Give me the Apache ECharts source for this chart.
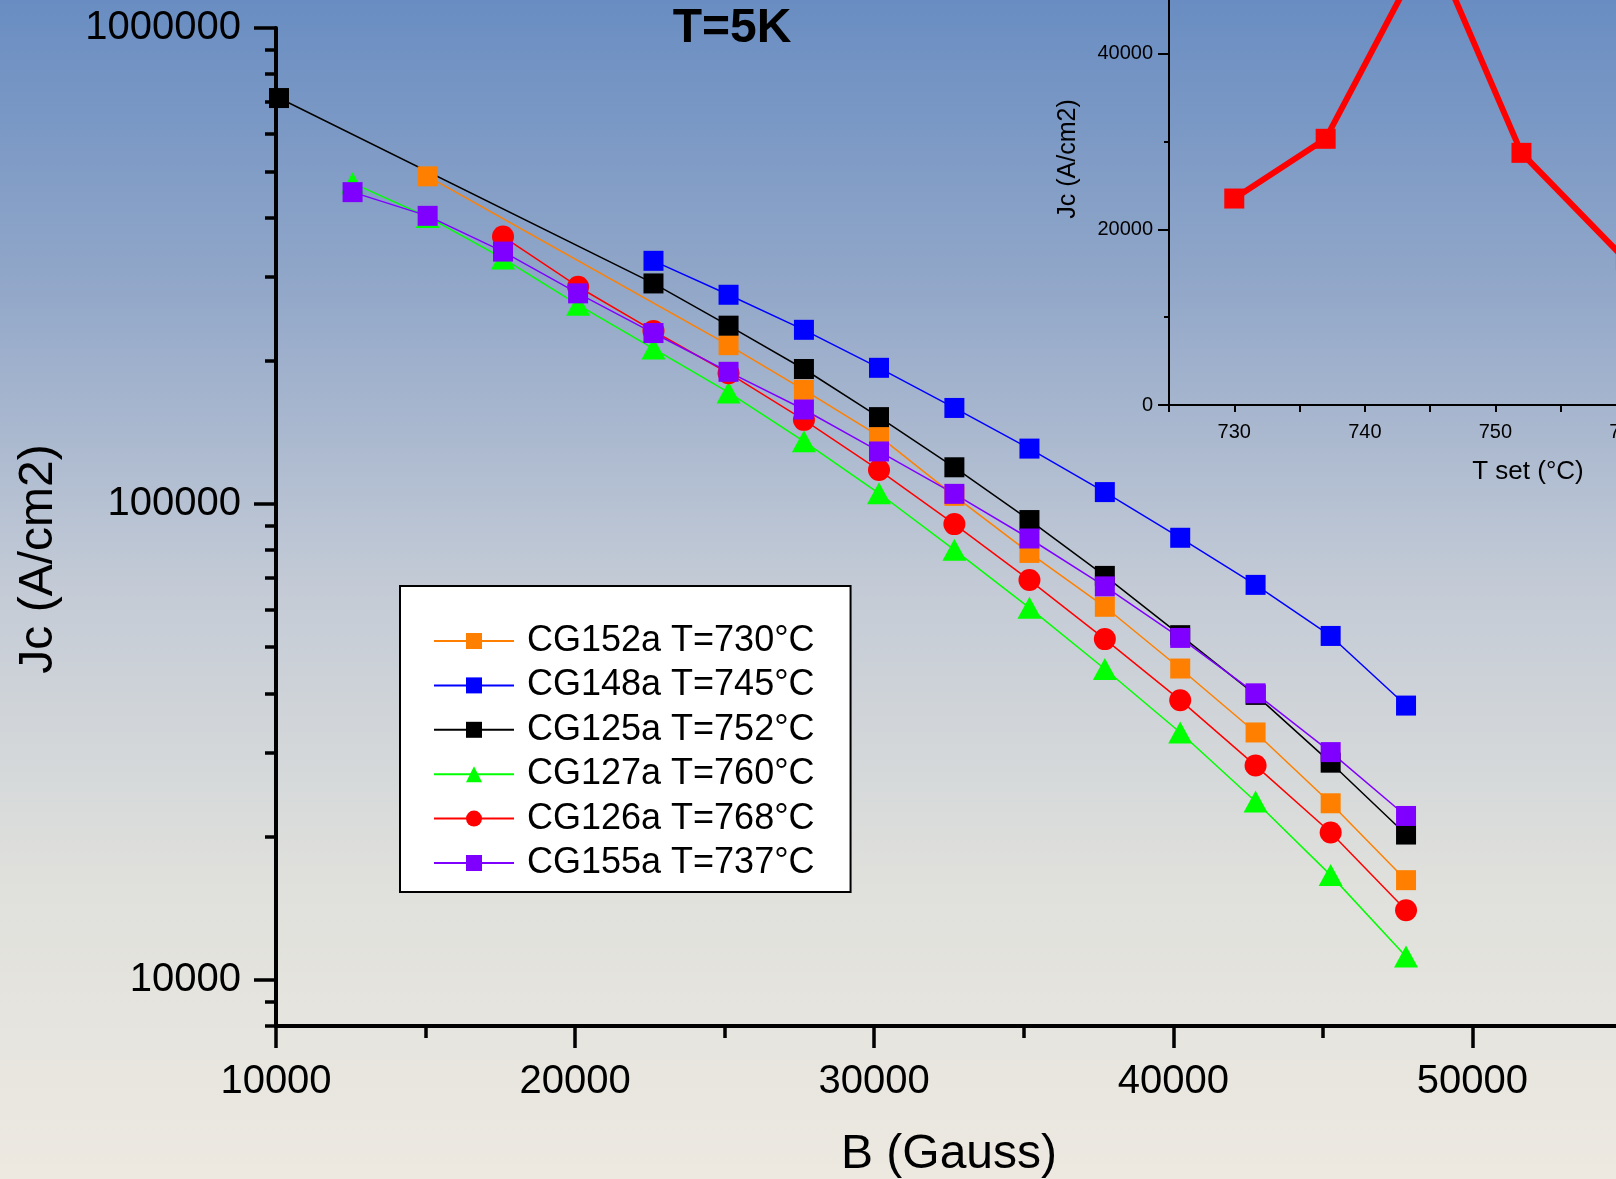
<!DOCTYPE html>
<html>
<head>
<meta charset="utf-8">
<script src="https://cdn.jsdelivr.net/npm/echarts@6/dist/echarts.min.js"></script>
<style>html,body{margin:0;padding:0;}#c{width:1616px;height:1179px;}</style>
</head>
<body>
<div id="c"></div>
<script>
// ---- data ----
var seriesNames = ['CG152a T=730°C', 'CG148a T=745°C', 'CG125a T=752°C', 'CG127a T=760°C', 'CG126a T=768°C', 'CG155a T=737°C'];

var bOrange = [15070, 25130, 27650, 30160, 32680, 35190, 37710, 40230, 42750, 45260, 47780];
var jOrange = [487900, 215600, 173700, 138800, 104000, 78900, 60800, 45100, 33100, 23500, 16200];

var bBlue = [22620, 25130, 27650, 30160, 32680, 35190, 37710, 40230, 42750, 45260, 47780];
var jBlue = [324200, 275100, 232200, 193200, 159100, 130700, 105900, 84900, 67600, 52800, 37700];

var bBlack = [10100, 22620, 25130, 27650, 30160, 32680, 35190, 37710, 40230, 42750, 45260, 47780];
var jBlack = [712600, 290600, 236900, 192100, 152200, 119400, 92500, 70600, 53000, 39700, 28600, 20200];

var bGreen = [12560, 15070, 17590, 20100, 22620, 25130, 27650, 30160, 32680, 35190, 37710, 40230, 42750, 45260, 47780];
var jGreen = [472000, 401000, 328000, 262000, 212000, 171500, 135400, 105300, 80100, 60500, 45000, 33100, 23700, 16600, 11200];

var bRed = [17590, 20100, 22620, 25130, 27650, 30160, 32680, 35190, 37710, 40230, 42750, 45260, 47780];
var jRed = [364500, 286000, 231000, 188200, 150200, 117800, 90700, 69200, 52000, 38700, 28200, 20400, 14000];

var bPurple = [12560, 15070, 17590, 20100, 22620, 25130, 27650, 30160, 32680, 35190, 37710, 40230, 42750, 45260, 47780];
var jPurple = [452000, 403000, 339000, 277000, 228600, 189500, 157900, 128900, 105000, 84600, 67100, 52300, 40000, 30100, 22100];

// inset: Jc vs set temperature
var insetT = [730, 737, 745, 752, 760, 768];
var insetJc = [23500, 30300, 52800, 28700, 16500, 20500];

// tick values
var xMajorTicks = [10000, 20000, 30000, 40000, 50000];
var xMinorTicks = [15000, 25000, 35000, 45000];
var yMajorTicks = [10000, 100000, 1000000];
var yMinorTicks = [8000, 9000, 20000, 30000, 40000, 50000, 60000, 70000, 80000, 90000,
                   200000, 300000, 400000, 500000, 600000, 700000, 800000, 900000];

// ---- chart ----
var FONT = '"Liberation Sans", Arial, sans-serif';
function pairs(xs, ys) { return xs.map(function (x, i) { return [x, ys[i]]; }); }

var colors = ['#ff8000', '#0000ff', '#000000', '#00ff00', '#ff0000', '#8000ff'];
var symbols = ['rect', 'rect', 'rect', 'triangle', 'circle', 'rect'];
var sizes = [20, 20, 20, [24, 22], 22, 20];
var dataSets = [pairs(bOrange, jOrange), pairs(bBlue, jBlue), pairs(bBlack, jBlack),
                pairs(bGreen, jGreen), pairs(bRed, jRed), pairs(bPurple, jPurple)];

var series = seriesNames.map(function (n, i) {
  return {
    name: n, type: 'line', xAxisIndex: 0, yAxisIndex: 0,
    data: dataSets[i], symbol: symbols[i], symbolSize: sizes[i],
    itemStyle: { color: colors[i] },
    lineStyle: { color: colors[i], width: 1.5 },
    emphasis: { disabled: true }, animation: false
  };
});
series.push({
  name: 'inset', type: 'line', xAxisIndex: 2, yAxisIndex: 2,
  data: pairs(insetT, insetJc), symbol: 'rect', symbolSize: 20,
  itemStyle: { color: '#ff0000' }, lineStyle: { color: '#ff0000', width: 6 },
  emphasis: { disabled: true }, animation: false
});

var option = {
  backgroundColor: {
    type: 'linear', x: 0, y: 0, x2: 0, y2: 1,
    colorStops: [
      { offset: 0, color: '#698dc2' },
      { offset: 0.25, color: '#93a8c9' },
      { offset: 0.5, color: '#c4cbd6' },
      { offset: 0.74, color: '#dfe0dc' },
      { offset: 1, color: '#ede9e1' }
    ]
  },
  animation: false,
  title: {
    text: 'T=5K', left: 732, top: 5, padding: 0, textAlign: 'center',
    textStyle: { fontSize: 48, fontWeight: 'bold', color: '#000', fontFamily: FONT }
  },
  legend: {
    data: seriesNames, orient: 'vertical', left: 400, top: 586,
    itemWidth: 80, itemHeight: 20, itemGap: 4.4,
    padding: [35, 36, 9, 33],
    backgroundColor: '#ffffff', borderColor: '#000000', borderWidth: 2, borderRadius: 0,
    textStyle: { fontSize: 36, lineHeight: 40, color: '#000', fontFamily: FONT, padding: [0, 0, 0, 8] },
    selectedMode: false
  },
  graphic: [{
    type: 'text', x: 39, y: 559, rotation: Math.PI / 2,
    style: { text: 'Jc (A/cm2)', fontSize: 48, fontFamily: FONT, fill: '#000', align: 'center', verticalAlign: 'middle' }
  }],
  grid: [
    { left: 276, top: 28, width: 1346, height: 998, outerBoundsMode: 'none', containLabel: false },
    { left: 1169, top: -87, width: 718, height: 492, outerBoundsMode: 'none', containLabel: false }
  ],
  xAxis: [
    {
      type: 'value', gridIndex: 0, min: 10000, max: 55000, position: 'bottom',
      name: 'B (Gauss)', nameLocation: 'middle', nameGap: 105,
      nameTextStyle: { fontSize: 48, color: '#000', fontFamily: FONT },
      axisLine: { lineStyle: { color: '#000', width: 4 } },
      axisTick: { customValues: xMajorTicks, length: 22, inside: false, lineStyle: { color: '#000', width: 3.5 } },
      axisLabel: { customValues: xMajorTicks, fontSize: 40, color: '#000', fontFamily: FONT, margin: 36,
                   formatter: function (v) { return String(v); } },
      splitLine: { show: false }
    },
    {
      type: 'value', gridIndex: 0, min: 10000, max: 55000, position: 'bottom', offset: 0,
      axisLine: { show: false },
      axisTick: { customValues: xMinorTicks, length: 12, inside: false, lineStyle: { color: '#000', width: 3.5 } },
      axisLabel: { show: false }, splitLine: { show: false }
    },
    {
      type: 'value', gridIndex: 1, min: 725, max: 780, interval: 5,
      name: 'T set (°C)', nameLocation: 'middle', nameGap: 54,
      nameTextStyle: { fontSize: 26, color: '#000', fontFamily: FONT },
      axisLine: { lineStyle: { color: '#000', width: 2 } },
      axisTick: { length: 7, inside: false, lineStyle: { color: '#000', width: 2 } },
      axisLabel: { fontSize: 20, color: '#000', fontFamily: FONT, margin: 17,
                   formatter: function (v) { return (v % 10 === 0) ? String(v) : ''; } },
      splitLine: { show: false }
    }
  ],
  yAxis: [
    {
      type: 'log', logBase: 10, gridIndex: 0, min: 8000, max: 1000000, position: 'left', z: 3,
      axisLine: { lineStyle: { color: '#000', width: 4 } },
      axisTick: { customValues: yMajorTicks, length: 22, inside: false, lineStyle: { color: '#000', width: 3.5 } },
      axisLabel: { customValues: yMajorTicks, fontSize: 40, color: '#000', fontFamily: FONT, margin: 35,
                   formatter: function (v) { return String(Math.round(v)); } },
      splitLine: { show: false }
    },
    {
      type: 'log', logBase: 10, gridIndex: 0, min: 8000, max: 1000000, position: 'left', offset: 0,
      axisLine: { show: false },
      axisTick: { customValues: yMinorTicks, length: 11, inside: false, lineStyle: { color: '#000', width: 3.5 } },
      axisLabel: { show: false }, splitLine: { show: false }
    },
    {
      type: 'value', gridIndex: 1, min: 0, max: 56000, interval: 20000,
      name: 'Jc (A/cm2)', nameLocation: 'middle', nameGap: 88,
      nameTextStyle: { fontSize: 25, color: '#000', fontFamily: FONT },
      axisLine: { lineStyle: { color: '#000', width: 2 } },
      axisTick: { length: 11, inside: false, lineStyle: { color: '#000', width: 2 } },
      minorTick: { show: true, splitNumber: 2, length: 5, lineStyle: { color: '#000', width: 2 } },
      axisLabel: { fontSize: 20, color: '#000', fontFamily: FONT, margin: 16,
                   formatter: function (v) { return v <= 40000 ? String(v) : ''; } },
      splitLine: { show: false }, minorSplitLine: { show: false }
    }
  ],
  series: series
};

var chart = echarts.init(document.getElementById('c'), null, { renderer: 'canvas' });
chart.setOption(option);
</script>
</body>
</html>
